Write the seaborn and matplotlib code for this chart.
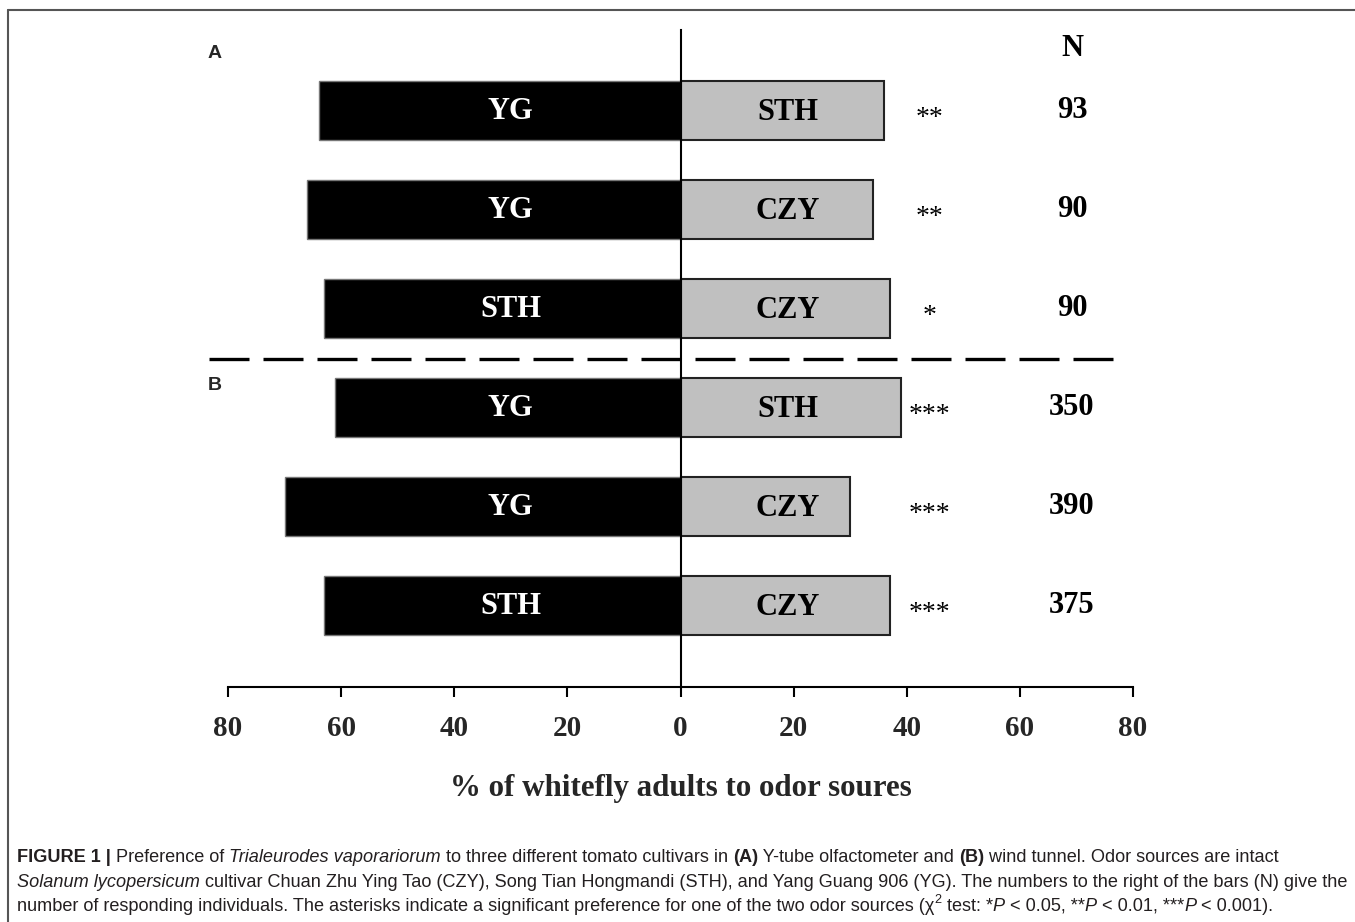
import matplotlib
matplotlib.use("Agg")
import matplotlib.pyplot as plt
from matplotlib.lines import Line2D
import seaborn as sns
import pandas as pd
import numpy as np

# ---- data ----
rows = ["1", "2", "3", "4", "5", "6"]
left_labels = ["YG", "YG", "STH", "YG", "YG", "STH"]
right_labels = ["STH", "CZY", "CZY", "STH", "CZY", "CZY"]
left_pct = [64, 66, 63, 61, 70, 63]
right_pct = [36, 34, 37, 39, 30, 37]
signif = ["**", "**", "*", "***", "***", "***"]
n_resp = [93, 90, 90, 350, 390, 375]
xticks = [-80, -60, -40, -20, 0, 20, 40, 60, 80]
xtick_labels = ["80", "60", "40", "20", "0", "20", "40", "60", "80"]

sns.set_theme(style="white")
plt.rcParams["font.family"] = ["Liberation Serif", "DejaVu Serif"]

W, H = 1355, 922
fig = plt.figure(figsize=(W / 100, H / 100), dpi=100)
ax = fig.add_axes([228 / W, 1 - 687 / H, (1133 - 228) / W, (687 - 30) / H])

df = pd.DataFrame({"row": rows, "left": [-v for v in left_pct], "right": right_pct})
sns.barplot(data=df, x="left", y="row", order=rows, orient="h", color="black",
            width=0.6, edgecolor="#777777", linewidth=1.0, saturation=1, ax=ax)
sns.barplot(data=df, x="right", y="row", order=rows, orient="h", color="#c0c0c0",
            width=0.6, edgecolor="#222222", linewidth=1.5, saturation=1, ax=ax)

ax.set_xlim(-80, 80)
ax.set_ylim(5.82, -0.81)
for s in ["top", "right"]:
    ax.spines[s].set_visible(False)
ax.spines["left"].set_position(("data", 0))
ax.spines["left"].set_linewidth(1.5)
ax.spines["left"].set_color("black")
ax.spines["bottom"].set_linewidth(1.5)
ax.spines["bottom"].set_color("black")
ax.set_yticks([])
ax.set_ylabel("")
ax.set_xticks(xticks)
ax.set_xticklabels(xtick_labels, fontsize=21, fontweight="bold")
ax.tick_params(axis="x", direction="out", length=7, width=1.5, color="black",
               pad=13.5, bottom=True)
ax.set_xlabel("% of whitefly adults to odor soures", fontsize=22.3, fontweight="bold",
              labelpad=23)
ax.patch.set_alpha(0)

for i in range(len(rows)):
    ax.text(-30, i + 0.01, left_labels[i], color="white", fontsize=22, fontweight="bold",
            ha="center", va="center")
    ax.text(19, i + 0.02, right_labels[i], color="black", fontsize=22, fontweight="bold",
            ha="center", va="center")
    ax.text(44, i + 0.08, signif[i], color="black", fontsize=20,
            ha="center", va="center")
    ax.text(69.2, i, str(n_resp[i]), color="black", fontsize=22, fontweight="bold",
            ha="center", va="center")
ax.text(69.2, -0.62, "N", color="black", fontsize=22, fontweight="bold",
        ha="center", va="center")

# dashed separator between panels
ax.plot([-83.4, 76.5], [2.51, 2.51], color="black", lw=2.4, ls=(0, (12, 4.2)),
        clip_on=False, solid_capstyle="butt", dash_capstyle="butt")

# panel letters
fig.text(215 / W, 1 - 53 / H, "A", fontsize=14, fontweight="bold",
         family=["Liberation Sans", "DejaVu Sans"], ha="center", va="center")
fig.text(215 / W, 1 - 386 / H, "B", fontsize=14, fontweight="bold",
         family=["Liberation Sans", "DejaVu Sans"], ha="center", va="center")

# frame
fig.add_artist(Line2D([8 / W, 8 / W], [0, 1 - 10 / H], transform=fig.transFigure,
                      color="#555555", lw=1.5))
fig.add_artist(Line2D([8 / W, 1], [1 - 10 / H, 1 - 10 / H], transform=fig.transFigure,
                      color="#555555", lw=1.5))

# caption with mixed styles
cap_family = ["Liberation Sans Narrow", "Liberation Sans", "DejaVu Sans"]
cap_size = 13.1
cap_color = "#231f20"
lines = [
    [("FIGURE 1 | ", "bold", "normal"), ("Preference of ", "normal", "normal"),
     ("Trialeurodes vaporariorum", "normal", "italic"),
     (" to three different tomato cultivars in ", "normal", "normal"),
     ("(A)", "bold", "normal"), (" Y-tube olfactometer and ", "normal", "normal"),
     ("(B)", "bold", "normal"),
     (" wind tunnel. Odor sources are intact", "normal", "normal")],
    [("Solanum lycopersicum", "normal", "italic"),
     (" cultivar Chuan Zhu Ying Tao (CZY), Song Tian Hongmandi (STH), and Yang Guang 906 (YG). "
      "The numbers to the right of the bars (N) give the", "normal", "normal")],
    [("number of responding individuals. The asterisks indicate a significant preference "
      "for one of the two odor sources (\u03c7", "normal", "normal"),
     ("SUP2", "normal", "normal"),
     (" test: *", "normal", "normal"), ("P", "normal", "italic"),
     (" < 0.05, **", "normal", "normal"), ("P", "normal", "italic"),
     (" < 0.01, ***", "normal", "normal"), ("P", "normal", "italic"),
     (" < 0.001).", "normal", "normal")],
]
line_y = [857, 882, 906]
fig.canvas.draw()
renderer = fig.canvas.get_renderer()
for segs, yy in zip(lines, line_y):
    x = 17.0
    for txt, wt, st in segs:
        if txt == "SUP2":
            t = fig.text(x / W, 1 - (yy - 6) / H, "2", fontsize=cap_size * 0.7,
                         family=cap_family, color=cap_color, va="center", ha="left")
        else:
            t = fig.text(x / W, 1 - yy / H, txt, fontsize=cap_size, fontweight=wt,
                         fontstyle=st, family=cap_family, color=cap_color,
                         va="center", ha="left")
        bb = t.get_window_extent(renderer=renderer)
        x += bb.width

fig.savefig("out.png", dpi=100)
